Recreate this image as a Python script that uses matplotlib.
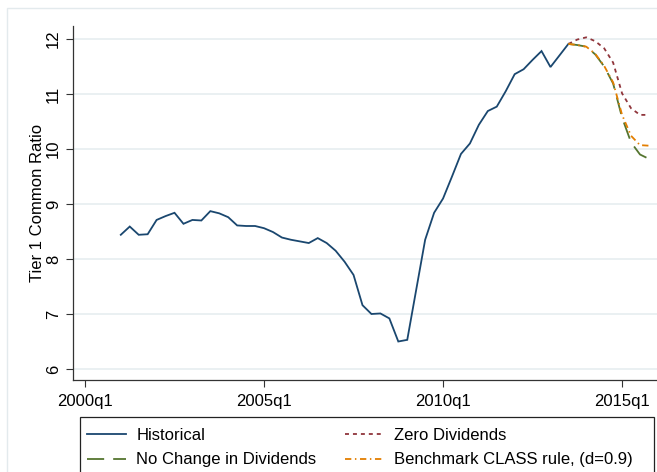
import numpy as np
import matplotlib
matplotlib.use("Agg")
import matplotlib.pyplot as plt
from matplotlib.patches import Rectangle

plt.rcParams['font.family'] = ['Liberation Sans', 'DejaVu Sans']

# ---- data (quarter index: 0 = 2000q1) ----
hist_start = 4  # 2001q1
historical = [8.44, 8.59, 8.44, 8.45,
              8.71, 8.78, 8.84, 8.64,
              8.71, 8.70, 8.87, 8.83,
              8.76, 8.61, 8.60, 8.60,
              8.56, 8.49, 8.39, 8.35,
              8.32, 8.29, 8.38, 8.29,
              8.15, 7.95, 7.71, 7.16,
              7.00, 7.01, 6.92, 6.50,
              6.53, 7.44, 8.35, 8.84,
              9.10, 9.50, 9.91, 10.10,
              10.44, 10.69, 10.77, 11.05,
              11.36, 11.45, 11.62, 11.78,
              11.49, 11.70, 11.91]
proj_start = 54  # 2013q3
zero_div = [11.91, 11.99, 12.03, 11.96, 11.83, 11.57, 11.01, 10.74, 10.62, 10.62]
no_change = [11.91, 11.89, 11.86, 11.72, 11.50, 11.19, 10.57, 10.12, 9.90, 9.82]
benchmark = [11.91, 11.89, 11.86, 11.73, 11.51, 11.21, 10.62, 10.24, 10.07, 10.06]

xtick_pos = [0, 20, 40, 60]
xtick_labels = ["2000q1", "2005q1", "2010q1", "2015q1"]
ytick_vals = [6, 7, 8, 9, 10, 11, 12]

labels = ["Historical", "No Change in Dividends", "Zero Dividends",
          "Benchmark CLASS rule, (d=0.9)"]
colors = {"hist": "#1a476f", "nochg": "#55752f", "zero": "#90353b", "bench": "#e37e00"}

W, H = 657, 472
fig = plt.figure(figsize=(W / 100, H / 100), dpi=100)
fig.patch.set_facecolor("white")

# outer graph region border
fig.patches.append(Rectangle((7 / W, -0.1), 1.2, 1 - 8 / H + 0.1, transform=fig.transFigure,
                             fill=False, edgecolor="#e3eaed", lw=1.0, clip_on=False))

ax = fig.add_axes([73 / W, 1 - 380 / H, 1 - 73 / W, (380 - 26) / H])

xh = np.arange(len(historical)) + hist_start
xp = np.arange(len(zero_div)) + proj_start

l_hist, = ax.plot(xh, historical, color=colors["hist"], lw=1.3, solid_joinstyle="miter")
l_zero, = ax.plot(xp, zero_div, color=colors["zero"], lw=1.3, dashes=(2.2, 2.2))
l_nochg, = ax.plot(xp, no_change, color=colors["nochg"], lw=1.3, dashes=(9.5, 5))
l_bench, = ax.plot(xp, benchmark, color=colors["bench"], lw=1.3, dashes=(3.5, 2, 0.8, 2))

ax.set_xlim(-1.34, 63.9)
ax.set_ylim(5.8, 12.236)
ax.set_xticks(xtick_pos)
ax.set_xticklabels(xtick_labels)
ax.set_yticks(ytick_vals)
ax.set_yticklabels([str(v) for v in ytick_vals], rotation=90, va="center")
ax.tick_params(axis="both", labelsize=12, length=5, width=0.8, color="#333333")
ax.tick_params(axis="y", pad=3.5)
ax.tick_params(axis="x", pad=5)
ax.grid(axis="y", color="#e6eef0", lw=1.2)
ax.set_axisbelow(True)
for s in ["top", "right"]:
    ax.spines[s].set_visible(False)
for s in ["left", "bottom"]:
    ax.spines[s].set_color("#333333")
    ax.spines[s].set_linewidth(0.9)
ax.set_ylabel("Tier 1 Common Ratio", fontsize=12)
ax.yaxis.set_label_coords(-0.048, 0.5)

# legend frame
fig.patches.append(Rectangle((80 / W, -0.1), (654 - 80) / W, (1 - 417 / H) + 0.1,
                             transform=fig.transFigure, fill=False, edgecolor="#222222",
                             lw=0.9, clip_on=False))
leg_kw = dict(loc="upper left", frameon=False, fontsize=12, borderpad=0, borderaxespad=0,
              handlelength=2.35, handletextpad=0.6, labelspacing=0.56)
leg1 = fig.legend([l_hist, l_nochg], [labels[0], labels[1]],
                  bbox_to_anchor=(87 / W, 1 - 428 / H), **leg_kw)
leg2 = fig.legend([l_zero, l_bench], [labels[2], labels[3]],
                  bbox_to_anchor=(345 / W, 1 - 428 / H), **leg_kw)

fig.savefig("out.png", dpi=100, facecolor="white")
